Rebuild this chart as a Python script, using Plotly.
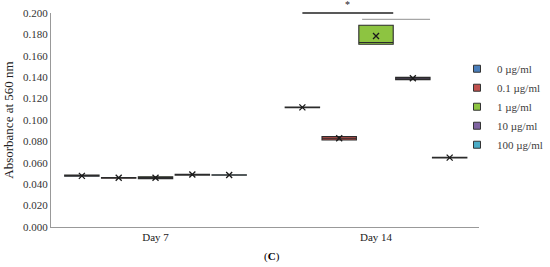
import plotly.graph_objects as go

days = ["Day 7", "Day 14"]
series = ["0 µg/ml", "0.1 µg/ml", "1 µg/ml", "10 µg/ml", "100 µg/ml"]
colors = ["#4A7EBB", "#C0504D", "#8DC441", "#8064A2", "#4BACC6"]

# per series: [Day 7, Day 14]
q1 = [[0.0475, 0.1115], [0.0455, 0.0813], [0.0452, 0.1708], [0.0485, 0.1377], [0.0483, 0.0645]]
median = [[0.0480, 0.1118], [0.0458, 0.0830], [0.0458, 0.1725], [0.0488, 0.1390], [0.0485, 0.0648]]
q3 = [[0.0485, 0.1122], [0.0462, 0.0846], [0.0470, 0.1885], [0.0492, 0.1400], [0.0488, 0.0651]]
mean = [[0.0478, 0.1118], [0.0460, 0.0830], [0.0460, 0.1785], [0.0490, 0.1390], [0.0486, 0.0648]]

y_ticks = [0.0, 0.02, 0.04, 0.06, 0.08, 0.10, 0.12, 0.14, 0.16, 0.18, 0.20]
y_max = 0.2

# significance brackets on Day 14 (series index range, data level)
sig_black = {"from": 0, "to": 2, "level": 0.200}
sig_gray = {"from": 2, "to": 3, "level": 0.194}

step = 0.167
bw = 0.156
serif = "Liberation Serif"

fig = go.Figure()
for i, name in enumerate(series):
    xs = [d + (i - 2) * step for d in range(len(days))]
    fig.add_trace(go.Box(
        x=xs, q1=q1[i], median=median[i], q3=q3[i],
        lowerfence=q1[i], upperfence=q3[i],
        width=bw, whiskerwidth=0,
        fillcolor=colors[i], line=dict(color="#2b2b2b", width=1.1),
        name=name, showlegend=False, hoverinfo="skip",
    ))
    fig.add_trace(go.Scatter(
        x=xs, y=mean[i], mode="markers",
        marker=dict(symbol="x-thin", size=6, line=dict(color="#1a1a1a", width=1.3)),
        showlegend=False, hoverinfo="skip",
    ))
# legend entries (square swatches)
for i, name in enumerate(series):
    fig.add_trace(go.Scatter(
        x=[None], y=[None], mode="markers", name=name,
        marker=dict(symbol="square", size=7, color=colors[i],
                    line=dict(color="#333333", width=1)),
        showlegend=True, hoverinfo="skip",
    ))

def xpos(day, i):
    return day + (i - 2) * step

fig.add_shape(type="line", xref="x", yref="paper",
              x0=xpos(1, sig_black["from"]), x1=xpos(1, sig_black["to"]) + bw / 2,
              y0=sig_black["level"] / y_max, y1=sig_black["level"] / y_max,
              line=dict(color="#222222", width=1.5))
fig.add_shape(type="line", xref="x", yref="paper",
              x0=xpos(1, sig_gray["from"]) - bw / 2 + 0.015, x1=xpos(1, sig_gray["to"]) + bw / 2,
              y0=sig_gray["level"] / y_max, y1=sig_gray["level"] / y_max,
              line=dict(color="#a6a6a6", width=1.1))

fig.add_annotation(x=(xpos(1, sig_black["from"]) + xpos(1, sig_black["to"]) + bw / 2) / 2,
                   y=1.0, xref="x", yref="paper", yshift=1,
                   text="*", showarrow=False, yanchor="bottom",
                   font=dict(family=serif, size=10, color="#222"))

fig.add_annotation(x=0.516, y=-0.14, xref="paper", yref="paper", yanchor="middle",
                   text="(<b>C</b>)", showarrow=False,
                   font=dict(family=serif, size=11, color="#000"))

fig.update_layout(
    width=575, height=267,
    margin=dict(l=51, r=96, t=12.7, b=40),
    paper_bgcolor="white", plot_bgcolor="white",
    font=dict(family=serif, size=11, color="#222"),
    showlegend=True,
    legend=dict(x=0.9486, xanchor="left", y=0.562, yanchor="middle",
                font=dict(family=serif, size=11, color="#404040"),
                itemwidth=30, tracegroupgap=0, bgcolor="rgba(0,0,0,0)"),
    xaxis=dict(range=[-0.474, 1.467], tickvals=list(range(len(days))), ticktext=days,
               automargin=False,
               showgrid=False, zeroline=False, showline=True, linecolor="#999999",
               linewidth=1, ticks="", tickfont=dict(family=serif, size=11, color="#222")),
    yaxis=dict(range=[0, y_max], tickvals=y_ticks, tickformat=".3f",
               automargin=False,
               showgrid=False, zeroline=False, showline=True, linecolor="#999999",
               linewidth=1, ticks="", tickfont=dict(family=serif, size=11, color="#333"),
               title=dict(text="Absorbance at 560 nm", standoff=6,
                          font=dict(family=serif, size=13, color="#222"))),
)

fig.write_html("out.html", config={"displayModeBar": False},
               post_script="document.body.style.margin='0';document.body.style.overflow='hidden';")
